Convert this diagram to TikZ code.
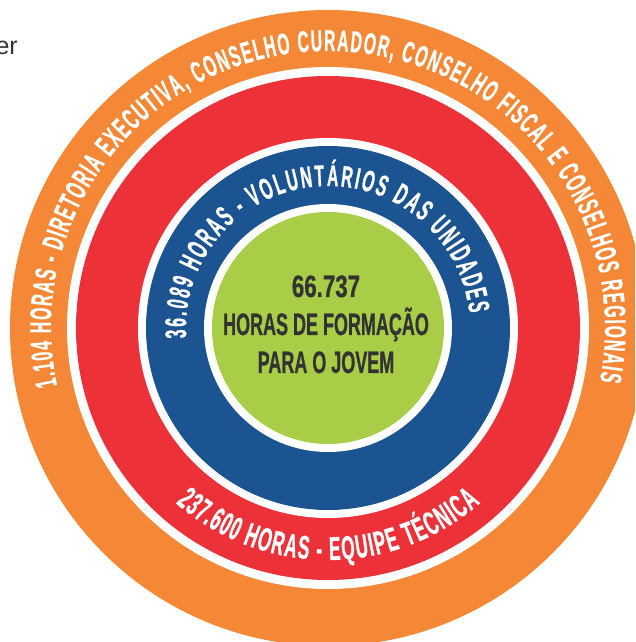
\documentclass[tikz,border=0pt]{standalone}
\usepackage{fontspec}
\usetikzlibrary{decorations.text,calc}
\setmainfont{Liberation Sans}
\newfontfamily\ringfont[FakeStretch=0.52,FakeBold=0.8]{Liberation Sans Bold}
\newfontfamily\centerfont[FakeStretch=0.58,FakeBold=0.6]{Liberation Sans Bold}
\newfontfamily\numfont[FakeStretch=0.72,FakeBold=0.6]{Liberation Sans Bold}
\definecolor{ringorange}{HTML}{F48836}
\definecolor{ringred}{HTML}{EC3139}
\definecolor{ringblue}{HTML}{1C5491}
\definecolor{ringgreen}{HTML}{A8CD46}
\definecolor{textdark}{HTML}{333333}
\tikzset{
  centerline/.style={anchor=base, inner sep=0pt, text=textdark, font=\centerfont\fontsize{31}{31}\selectfont},
  ringtext/.style={decorate, decoration={text along path, text={#1}, text align={fit to path}}}
}
\begin{document}
\begin{tikzpicture}[x=1pt,y=1pt]
\useasboundingbox (0,0) rectangle (635,642);
\clip (0,0) rectangle (635,642);
\coordinate (C) at (328,314);
% discs
\fill[ringorange] (C) circle[radius=318];
\fill[white] (C) circle[radius=261];
\fill[ringred] (C) circle[radius=252];
\fill[white] (C) circle[radius=190];
\fill[ringblue] (C) circle[radius=182];
\fill[white] (C) circle[radius=124];
\fill[ringgreen] (C) circle[radius=116];
% ring texts
\path[ringtext={|\color{white}\ringfont\fontsize{30}{30}\selectfont|1.104 HORAS - DIRETORIA EXECUTIVA, CONSELHO CURADOR, CONSELHO FISCAL E CONSELHOS REGIONAIS}]
  ($(C)+(192:277)$) arc[start angle=192, end angle=-11, radius=277];
\path[ringtext={|\color{white}\ringfont\fontsize{30}{30}\selectfont|36.089 HORAS - VOLUNTÁRIOS DAS UNIDADES}]
  ($(C)+(184:142)$) arc[start angle=184, end angle=6, radius=142];
\path[ringtext={|\color{white}\ringfont\fontsize{33}{33}\selectfont|237.600 HORAS - EQUIPE TÉCNICA}]
  ($(C)+(229:232)$) arc[start angle=229, end angle=311, radius=232];
% centre text
\node[centerline, font=\numfont\fontsize{31}{31}\selectfont] (num) at (326,345) {66.737};
\node[centerline] (line2) at (326,307) {HORAS DE FORMAÇÃO};
\node[centerline] (line3) at (326,269) {PARA O JOVEM};
% cut-off word at top left
\node[anchor=base east, inner sep=0pt, text=textdark, font=\fontsize{25}{25}\selectfont] (er) at (18,587) {er};
\end{tikzpicture}
\end{document}
